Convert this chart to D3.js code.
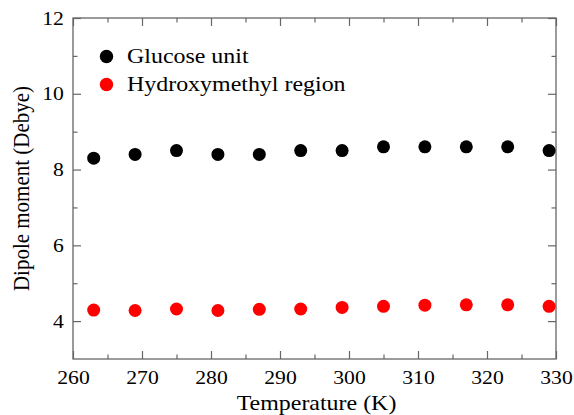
<!DOCTYPE html>
<html>
<head>
<meta charset="utf-8">
<script src="https://cdn.jsdelivr.net/npm/d3@7"></script>
<style>
  body { margin: 0; background: #fff; }
  svg { display: block; font-family: "Liberation Serif", "Times New Roman", serif; }
</style>
</head>
<body>
<svg id="chart" width="574" height="415"></svg>
<script>
const temperatures = [263, 269, 275, 281, 287, 293, 299, 305, 311, 317, 323, 329]
const glucoseUnit = [8.3, 8.4, 8.5, 8.4, 8.4, 8.5, 8.5, 8.6, 8.6, 8.6, 8.6, 8.5]
const hydroxymethyl = [4.29, 4.28, 4.32, 4.28, 4.31, 4.32, 4.36, 4.39, 4.42, 4.43, 4.43, 4.39]
const xTicks = [260, 270, 280, 290, 300, 310, 320, 330]
const yTicks = [4, 6, 8, 10, 12]
const seriesNames = ['Glucose unit', 'Hydroxymethyl region']
const seriesColors = ['#000000', '#ff0000']

const width = 574, height = 415
const marginLeft = 73, marginRight = 18, marginTop = 18, marginBottom = 56
const axisColor = '#666'
const stretch = 1.14 // the original figure is a bit wider than tall

const svg = d3.select('#chart')

const x = d3.scaleLinear().domain([260, 330]).range([marginLeft, width - marginRight])
const y = d3.scaleLinear().domain([3, 12]).range([height - marginBottom, marginTop])

const xMinor = d3.range(265, 330, 10)
const yMinor = d3.range(5, 12, 2)

// frame
svg.append('rect')
    .attr('x', x(260)).attr('y', y(12))
    .attr('width', x(330) - x(260)).attr('height', y(3) - y(12))
    .attr('fill', 'none').attr('stroke', axisColor).attr('stroke-width', 1.3)

function styleAxis(g, labels) {
    g.select('.domain').remove()
    g.selectAll('.tick line').attr('stroke', axisColor).attr('stroke-width', 1.2)
    g.selectAll('.tick text')
        .attr('fill', '#000')
        .style('font-size', '19px')
        .style('font-family', '"Liberation Serif", "Times New Roman", serif')
    if (!labels) g.selectAll('.tick text').remove()
}

// major + minor ticks on all four sides, pointing inward
svg.append('g').attr('transform', `translate(0,${y(3)})`)
    .call(d3.axisBottom(x).tickValues(xTicks).tickSize(-8).tickPadding(12).tickFormat(d3.format('d')))
    .call(g => styleAxis(g, true))
    .call(g => g.selectAll('.tick text').attr('transform', `scale(${stretch},1)`))
svg.append('g').attr('transform', `translate(0,${y(3)})`)
    .call(d3.axisBottom(x).tickValues(xMinor).tickSize(-4.5))
    .call(g => styleAxis(g, false))
svg.append('g').attr('transform', `translate(0,${y(12)})`)
    .call(d3.axisTop(x).tickValues(xTicks).tickSize(-8))
    .call(g => styleAxis(g, false))
svg.append('g').attr('transform', `translate(0,${y(12)})`)
    .call(d3.axisTop(x).tickValues(xMinor).tickSize(-4.5))
    .call(g => styleAxis(g, false))

svg.append('g').attr('transform', `translate(${x(260)},0)`)
    .call(d3.axisLeft(y).tickValues(yTicks).tickSize(-8).tickPadding(8).tickFormat(d3.format('d')))
    .call(g => styleAxis(g, true))
    .call(g => g.selectAll('.tick text').attr('transform', `scale(${stretch},1)`))
svg.append('g').attr('transform', `translate(${x(260)},0)`)
    .call(d3.axisLeft(y).tickValues(yMinor).tickSize(-4.5))
    .call(g => styleAxis(g, false))
svg.append('g').attr('transform', `translate(${x(330)},0)`)
    .call(d3.axisRight(y).tickValues(yTicks).tickSize(-8))
    .call(g => styleAxis(g, false))
svg.append('g').attr('transform', `translate(${x(330)},0)`)
    .call(d3.axisRight(y).tickValues(yMinor).tickSize(-4.5))
    .call(g => styleAxis(g, false))

// axis titles
svg.append('text')
    .attr('transform', `translate(${(x(260) + x(330)) / 2 + 2},410) scale(${stretch},1)`)
    .attr('text-anchor', 'middle')
    .style('font-size', '21px')
    .text('Temperature (K)')

svg.append('text')
    .attr('transform', `translate(29,${(y(3) + y(12)) / 2}) rotate(-90) scale(1,${stretch})`)
    .attr('text-anchor', 'middle')
    .style('font-size', '21px')
    .text('Dipole moment (Debye)')

// points
const series = [glucoseUnit, hydroxymethyl]
series.forEach((vals, i) => {
    svg.append('g')
        .selectAll('circle')
        .data(vals)
        .join('circle')
        .attr('cx', (d, j) => x(temperatures[j]))
        .attr('cy', d => y(d))
        .attr('r', 6.5)
        .attr('fill', seriesColors[i])
})

// legend
const legend = svg.append('g')
seriesNames.forEach((name, i) => {
    const ly = 56.5 + i * 28
    legend.append('circle')
        .attr('cx', 106.5).attr('cy', ly).attr('r', 6.7)
        .attr('fill', seriesColors[i])
    legend.append('text')
        .attr('transform', `translate(127,${ly + 6}) scale(${stretch},1)`)
        .style('font-size', '21px')
        .text(name)
})
</script>
</body>
</html>
